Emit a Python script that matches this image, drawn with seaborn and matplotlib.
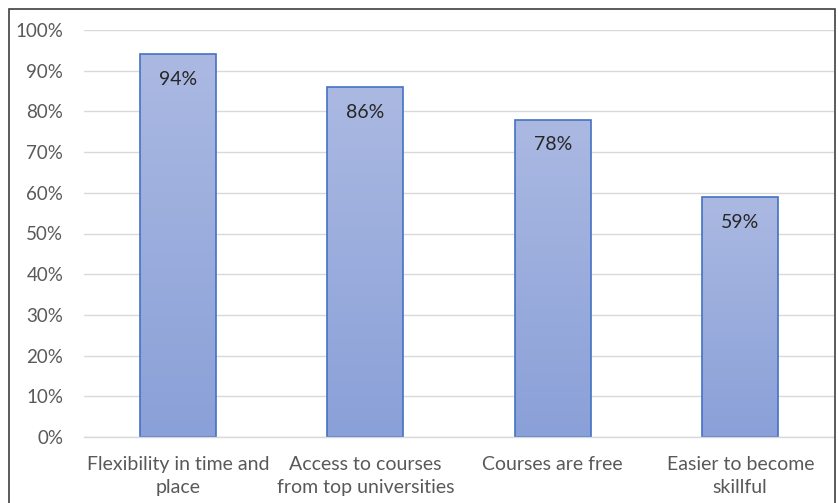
import matplotlib
matplotlib.use("Agg")
import matplotlib.pyplot as plt
import seaborn as sns
import numpy as np
import pandas as pd
from matplotlib.patches import Rectangle
from matplotlib.colors import LinearSegmentedColormap

categories = ["Flexibility in time and\nplace", "Access to courses\nfrom top universities",
              "Courses are free", "Easier to become\nskillful"]
values = [94, 86, 78, 59]
labels = ["94%", "86%", "78%", "59%"]
yticks = [0, 10, 20, 30, 40, 50, 60, 70, 80, 90, 100]

sns.set_theme(style="white")
plt.rcParams['font.family'] = ['Lato', 'DejaVu Sans']

fig = plt.figure(figsize=(8.38, 5.03), dpi=100)
ax = fig.add_axes([84/838, 1 - 437/503, 750/838, 407/503])

df = pd.DataFrame({"cat": categories, "val": values})
sns.barplot(data=df, x="cat", y="val", ax=ax, width=0.405,
            color="#9AAEDD", edgecolor="#4472C4", linewidth=1.2, saturation=1)

cmap = LinearSegmentedColormap.from_list("g", ["#8AA0D8", "#ABB9E2"])
grad = np.linspace(0, 1, 256).reshape(-1, 1)
for p in ax.patches:
    x0, y0 = p.get_x(), p.get_y()
    w, h = p.get_width(), p.get_height()
    p.set_facecolor("none")
    im = ax.imshow(grad, cmap=cmap, origin="lower", aspect="auto",
                   extent=[x0, x0 + w, y0, y0 + h], zorder=p.get_zorder() - 0.1)
    im.set_clip_path(p)
    p.set_zorder(p.get_zorder() + 0.2)

ax.set_xlim(-0.5, 3.5)
ax.set_ylim(0, 100)
ax.set_yticks(yticks)
ax.set_yticklabels([f"{t}%" for t in yticks])
ax.yaxis.grid(True, color="#D9D9D9", linewidth=1)
ax.set_axisbelow(True)
for s in ["top", "right", "left"]:
    ax.spines[s].set_visible(False)
ax.spines["bottom"].set_color("#D9D9D9")
ax.spines["bottom"].set_linewidth(1)
ax.tick_params(axis="both", length=0, colors="#595959")
ax.tick_params(axis="y", pad=15, labelsize=13.5)
ax.tick_params(axis="x", pad=14, labelsize=14)
for t in ax.get_xticklabels():
    t.set_linespacing(1.4)
ax.set_xlabel("")
ax.set_ylabel("")

for i, (v, lab) in enumerate(zip(values, labels)):
    ax.text(i, v - 6.2, lab, ha="center", va="center", fontsize=14, color="#262626", zorder=10)

fig.patches.append(Rectangle((9/838, -0.1), 826/838, 1.1 - 9/503, transform=fig.transFigure,
                             fill=False, edgecolor="#404040", linewidth=1.2))

fig.savefig("out.png", dpi=100)
